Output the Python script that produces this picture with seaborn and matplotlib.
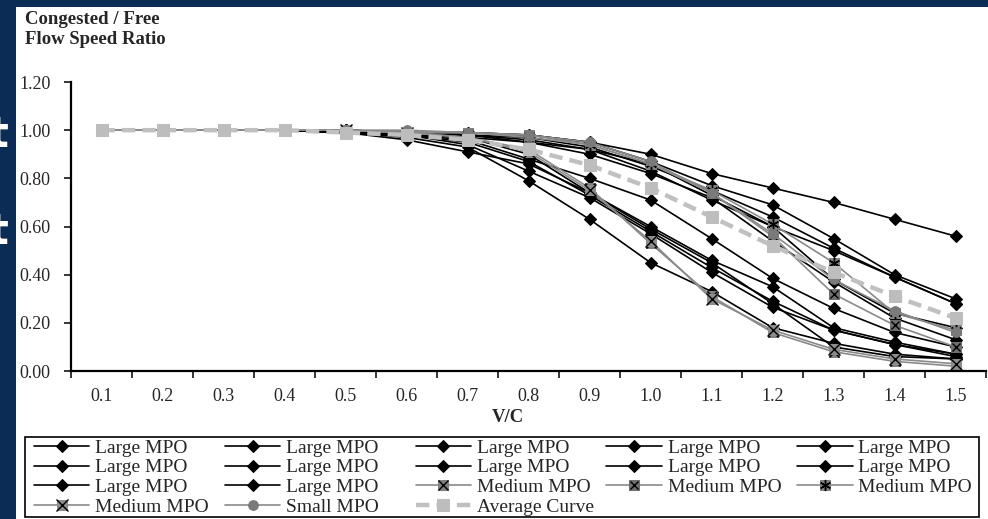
import matplotlib
matplotlib.use('Agg')
import matplotlib.pyplot as plt
from matplotlib.patches import Rectangle
from matplotlib.legend_handler import HandlerTuple
import seaborn as sns

# data (congested / free flow speed ratio by V/C)
vc = [0.1, 0.2, 0.3, 0.4, 0.5, 0.6, 0.7, 0.8, 0.9, 1.0, 1.1, 1.2, 1.3, 1.4, 1.5]

large_mpo = [
    [1.00, 1.00, 1.00, 1.00, 1.00, 0.99, 0.99, 0.98, 0.95, 0.90, 0.82, 0.76, 0.70, 0.63, 0.56],
    [1.00, 1.00, 1.00, 1.00, 1.00, 0.99, 0.99, 0.98, 0.95, 0.87, 0.77, 0.69, 0.55, 0.40, 0.30],
    [1.00, 1.00, 1.00, 1.00, 1.00, 0.99, 0.98, 0.97, 0.93, 0.85, 0.75, 0.64, 0.51, 0.39, 0.28],
    [1.00, 1.00, 1.00, 1.00, 1.00, 0.99, 0.98, 0.96, 0.92, 0.83, 0.71, 0.60, 0.38, 0.24, 0.18],
    [1.00, 1.00, 1.00, 1.00, 0.99, 0.98, 0.97, 0.95, 0.90, 0.82, 0.72, 0.54, 0.37, 0.22, 0.13],
    [1.00, 1.00, 1.00, 1.00, 0.99, 0.98, 0.96, 0.88, 0.80, 0.71, 0.55, 0.385, 0.26, 0.16, 0.10],
    [1.00, 1.00, 1.00, 1.00, 0.99, 0.99, 0.97, 0.90, 0.74, 0.60, 0.46, 0.35, 0.18, 0.12, 0.07],
    [1.00, 1.00, 1.00, 1.00, 0.99, 0.98, 0.95, 0.87, 0.73, 0.58, 0.43, 0.29, 0.17, 0.11, 0.07],
    [1.00, 1.00, 1.00, 1.00, 0.99, 0.98, 0.94, 0.83, 0.72, 0.57, 0.41, 0.265, 0.17, 0.11, 0.06],
    [1.00, 1.00, 1.00, 1.00, 0.99, 0.97, 0.93, 0.79, 0.63, 0.45, 0.33, 0.18, 0.115, 0.07, 0.05],
    [1.00, 1.00, 1.00, 1.00, 0.99, 0.96, 0.91, 0.86, 0.74, 0.59, 0.45, 0.28, 0.10, 0.06, 0.05],
    [1.00, 1.00, 1.00, 1.00, 1.00, 0.99, 0.98, 0.95, 0.92, 0.86, 0.73, 0.60, 0.50, 0.39, 0.28],
]

medium_mpo = [
    [1.00, 1.00, 1.00, 1.00, 1.00, 0.99, 0.97, 0.92, 0.76, 0.53, 0.31, 0.16, 0.08, 0.04, 0.02],
    [1.00, 1.00, 1.00, 1.00, 1.00, 0.99, 0.99, 0.97, 0.94, 0.86, 0.74, 0.56, 0.32, 0.19, 0.10],
    [1.00, 1.00, 1.00, 1.00, 1.00, 0.99, 0.99, 0.98, 0.94, 0.86, 0.75, 0.61, 0.45, 0.24, 0.17],
    [1.00, 1.00, 1.00, 1.00, 1.00, 0.99, 0.97, 0.91, 0.75, 0.54, 0.30, 0.17, 0.09, 0.05, 0.03],
]

small_mpo = [1.00, 1.00, 1.00, 1.00, 1.00, 1.00, 0.99, 0.98, 0.95, 0.87, 0.74, 0.57, 0.38, 0.25, 0.16]

average_curve = [1.00, 1.00, 1.00, 1.00, 0.99, 0.98, 0.96, 0.92, 0.855, 0.76, 0.64, 0.52, 0.41, 0.31, 0.22]

y_ticks = [0.0, 0.2, 0.4, 0.6, 0.8, 1.0, 1.2]

sns.set_style('white')
plt.rcParams['font.family'] = ['Liberation Serif', 'DejaVu Serif']

navy = '#0b2d55'
fig = plt.figure(figsize=(9.88, 5.19), dpi=100, facecolor=navy)
fig.patches.append(Rectangle((16 / 988, 0), 1 - 16 / 988, 512 / 519,
                             transform=fig.transFigure, facecolor='white',
                             edgecolor='none', zorder=-2))
# cut-off slide text on the left edge
fig.text(-0.012, 1 - 135 / 519, 't', color='white', fontsize=30, fontweight='bold',
         family='DejaVu Sans', va='center')
fig.text(-0.012, 1 - 232 / 519, 't', color='white', fontsize=30, fontweight='bold',
         family='DejaVu Sans', va='center')

ax = fig.add_axes([71 / 988, 148 / 519, 915 / 988, 289 / 519])
ax.set_facecolor('none')

handles = []
labels = []

for vals in large_mpo:
    sns.lineplot(x=vc, y=vals, ax=ax, color='black', lw=1.2, marker='D',
                 markersize=6, markeredgecolor='black', markerfacecolor='black')
    handles.append(ax.lines[-1])
    labels.append('Large MPO')

medium_styles = [
    ('#808080', 'x', 7),
    ('#6e6e6e', 'x', 6),
    ('#808080', (6, 2, 0), 8),
    ('#8c8c8c', 'x', 8),
]
for vals, (col, over, osz) in zip(medium_mpo, medium_styles):
    sns.lineplot(x=vc, y=vals, ax=ax, color='#8a8a8a', lw=1.2, marker='s',
                 markersize=7, markeredgecolor=col, markerfacecolor=col)
    ln = ax.lines[-1]
    mk, = ax.plot(vc, vals, ls='none', marker=over, markersize=osz,
                  color='black', markeredgewidth=1.0)
    handles.append((ln, mk))
    labels.append('Medium MPO')

sns.lineplot(x=vc, y=small_mpo, ax=ax, color='#8a8a8a', lw=1.2, marker='o',
             markersize=7, markeredgecolor='#7a7a7a', markerfacecolor='#7a7a7a')
handles.append(ax.lines[-1])
labels.append('Small MPO')

sns.lineplot(x=vc, y=average_curve, ax=ax, color='#c0c0c0', lw=3.2, marker='s',
             markersize=8, markeredgecolor='#bdbdbd', markerfacecolor='#bdbdbd')
avg_line = ax.lines[-1]
avg_line.set_linestyle((0, (3, 1.6)))
handles.append(avg_line)
labels.append('Average Curve')

# axes styling
ax.set_xlim(0.05, 1.55)
ax.set_ylim(0, 1.2)
ax.set_xticks([0.05 + 0.1 * i for i in range(16)])
ax.set_xticklabels([])
ax.set_xticks(vc, minor=True)
ax.set_xticklabels([f'{v:.1f}' for v in vc], minor=True)
ax.tick_params(axis='x', which='minor', length=0, pad=12, labelsize=13)
ax.tick_params(axis='x', which='major', length=5, width=1.3, direction='out', bottom=True)
ax.set_yticks(y_ticks)
ax.set_yticklabels([f'{v:.2f}' for v in y_ticks])
ax.tick_params(axis='y', length=5, width=1.3, direction='out', left=True, labelsize=13, pad=9.5)
for side in ['top', 'right']:
    ax.spines[side].set_visible(False)
for side in ['left', 'bottom']:
    ax.spines[side].set_linewidth(1.6)
    ax.spines[side].set_color('black')
ax.set_xlabel('')
ax.set_ylabel('')

fig.text(508 / 988, 1 - 418 / 519, 'V/C', fontsize=13.5, fontweight='bold',
         ha='center', va='center')
fig.text(25 / 988, 1 - 11 / 519, 'Congested / Free\nFlow Speed Ratio', fontsize=13.5,
         fontweight='bold', va='top', ha='left', linespacing=1.25)

# legend: 5 equal columns filled row by row, inside one black box
fig.patches.append(Rectangle((25 / 988, 2 / 519), 954 / 988, 80 / 519,
                             transform=fig.transFigure, facecolor='white',
                             edgecolor='black', linewidth=1.2, zorder=-1))
for c in range(5):
    idx = list(range(c, len(handles), 5))
    fig.legend([handles[i] for i in idx], [labels[i] for i in idx],
               loc='upper left', bbox_to_anchor=((34 + 190.8 * c) / 988, 1 - 439 / 519),
               fontsize=14, frameon=False, borderpad=0, borderaxespad=0,
               labelspacing=0.11, handlelength=2.85, handletextpad=0.3,
               handler_map={tuple: HandlerTuple(ndivide=1)})

fig.savefig('out.png', dpi=100, facecolor=fig.get_facecolor())
